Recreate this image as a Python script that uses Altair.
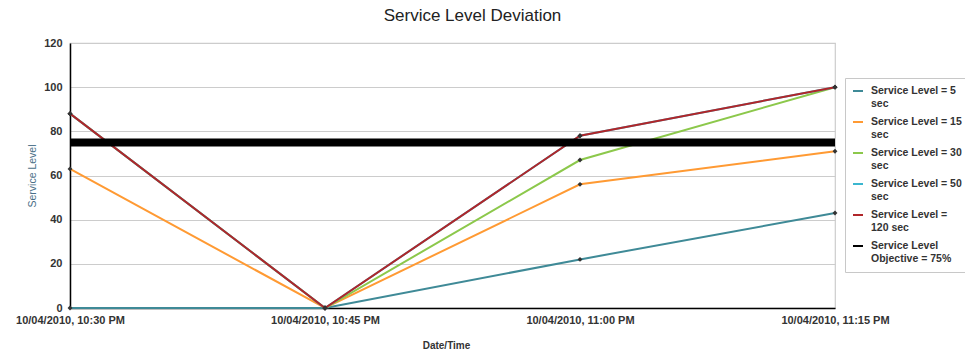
import altair as alt
import pandas as pd

# Time slots on the x axis
times = ["10/04/2010, 10:30 PM", "10/04/2010, 10:45 PM",
         "10/04/2010, 11:00 PM", "10/04/2010, 11:15 PM"]

# Service level (%) per threshold
sl_5 = [0, 0, 22, 43]
sl_15 = [63, 0, 56, 71]
sl_30 = [88, 0, 67, 100]
sl_50 = [88, 0, 78, 100]
sl_120 = [88, 0, 78, 100]
objective = [75, 75, 75, 75]

series_names = ["Service Level = 5 sec", "Service Level = 15 sec",
                "Service Level = 30 sec", "Service Level = 50 sec",
                "Service Level = 120 sec", "Service Level Objective = 75%"]
series_values = [sl_5, sl_15, sl_30, sl_50, sl_120, objective]
series_colors = ["#3f8a97", "#ff9a33", "#8cc84b", "#3bb6cf", "#b0262a", "#000000"]
legend_labels = ["Service Level = 5|sec", "Service Level = 15|sec",
                 "Service Level = 30|sec", "Service Level = 50|sec",
                 "Service Level =|120 sec", "Service Level|Objective = 75%"]

rows = []
for order, (name, vals) in enumerate(zip(series_names, series_values)):
    for t, v in zip(times, vals):
        rows.append({"series": name, "time": t, "value": v, "order": order})
df = pd.DataFrame(rows)
measured = df[df["order"] < 5]
target = df[df["order"] == 5]

label_map = "{" + ",".join(f"'{n}': '{l}'" for n, l in zip(series_names, legend_labels)) + "}"

x_enc = alt.X("time:N", sort=times, title="Date/Time",
              scale=alt.Scale(type="point", padding=0),
              axis=alt.Axis(labelAngle=0, labelFontSize=11, labelFontWeight="bold",
                            labelColor="#333",
                            titleFontSize=10, titleFontWeight="bold", titleColor="#333",
                            titlePadding=15, titleX=376, domainColor="#000", domainWidth=1.5,
                            ticks=False, labelPadding=6, grid=False))
y_enc = alt.Y("value:Q", title="Service Level",
              scale=alt.Scale(domain=[0, 120], nice=False),
              axis=alt.Axis(values=[0, 20, 40, 60, 80, 100, 120], labelFontSize=11,
                            labelFontWeight="bold", labelColor="#333",
                            titleFontSize=10.5, titleFontWeight="normal",
                            titleColor="#4a6f88", titlePadding=6,
                            domainColor="#000", domainWidth=1.5, ticks=False,
                            labelPadding=8, gridColor="#cccccc", gridWidth=1.2))

color_enc = alt.Color("series:N", sort=series_names,
                      scale=alt.Scale(domain=series_names, range=series_colors),
                      legend=alt.Legend(title=None, orient="none", legendX=775, legendY=35,
                                        symbolType="stroke", symbolStrokeWidth=2,
                                        symbolSize=100, labelFontSize=10.5,
                                        labelFontWeight="bold", labelColor="#333",
                                        labelExpr=f"split({label_map}[datum.label], '|')",
                                        strokeColor="#c8c8c8", padding=7, rowPadding=6,
                                        labelLimit=200, labelOffset=7))

# Measured service levels
lines = alt.Chart(measured).mark_line(strokeWidth=2).encode(
    x=x_enc,
    y=y_enc,
    color=color_enc,
    order=alt.Order("order:Q"),
)

points = alt.Chart(measured).mark_point(
    shape="diamond", filled=True, size=24, color="#333333", opacity=1
).encode(x=alt.X("time:N", sort=times), y="value:Q")

# Objective line drawn on top
target_line = alt.Chart(target).mark_line(strokeWidth=8, strokeCap="butt").encode(
    x=alt.X("time:N", sort=times),
    y="value:Q",
    color=alt.Color("series:N", sort=series_names),
)

chart = alt.layer(lines, points, target_line).properties(
    width=765, height=265,
    title=alt.TitleParams("Service Level Deviation", fontSize=17, fontWeight="normal",
                          color="#222", font="Liberation Sans", anchor="middle",
                          dx=20, offset=12),
    autosize="none",
    padding={"left": 70, "top": 43, "right": 130, "bottom": 43},
).configure(
    font="Liberation Sans",
    style={"guide-label": {"lineHeight": 13}},
).configure_view(
    stroke="#cccccc", strokeWidth=1.2
)

chart.save("out.html", embed_options={"renderer": "svg", "actions": False})
